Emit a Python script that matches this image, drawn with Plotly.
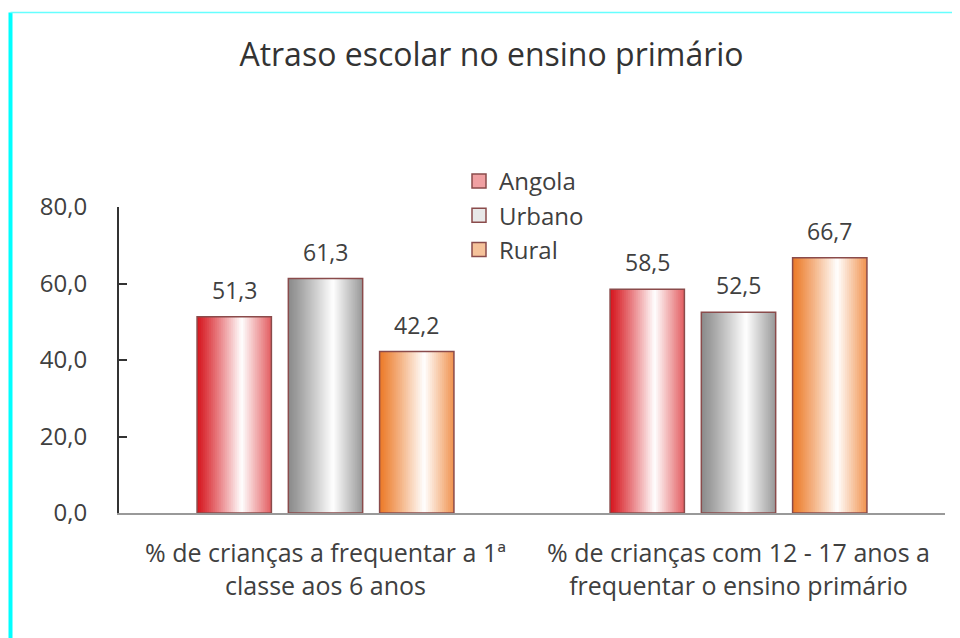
import plotly.graph_objects as go

# ---- data ----
categories = ["% de crianças a frequentar a 1ª<br>classe aos 6 anos",
              "% de crianças com 12 - 17 anos a<br>frequentar o ensino primário"]
series_names = ["Angola", "Urbano", "Rural"]
angola = [51.3, 58.5]
urbano = [61.3, 52.5]
rural = [42.2, 66.7]
series_values = [angola, urbano, rural]
y_ticks = [0, 20, 40, 60, 80]

# ---- style ----
# page body has an 8px margin, so the figure is drawn 8px in from the window edge
OFF = 8
W, H = 960 - OFF, 638 - OFF
ML, MR, MT, MB = 119 - OFF, 960 - 945, 207 - OFF, 638 - 513
edge_left = [(214, 22, 30), (138, 138, 138), (236, 122, 40)]
edge_right = [(226, 92, 96), (152, 152, 152), (240, 146, 78)]
legend_fill = ["#f0a0a2", "#e8e8e8", "#f5c29a"]
outline = "#8a4b4b"
bar_w = 0.18
offsets = [-0.221, 0.0, 0.221]
N = 37
peak = 0.6
FONT = "Open Sans"
TXT = "#404040"


def mix(c1, c2, s):
    return "rgb(%d,%d,%d)" % tuple(round(a + (b - a) * s) for a, b in zip(c1, c2))


white = (255, 255, 255)
xs = list(range(len(categories)))
fig = go.Figure()

for k, (name, vals) in enumerate(zip(series_names, series_values)):
    sw = bar_w / N
    for j in range(N):
        t = (j + 0.5) / N
        if t < peak:
            col = mix(edge_left[k], white, (t / peak) ** 1.1)
        else:
            col = mix(white, edge_right[k], (t - peak) / (1 - peak))
        fig.add_trace(go.Bar(
            x=xs, y=vals, width=sw * (2.0 if j < N - 1 else 1.0),
            offset=offsets[k] - bar_w / 2 + j * sw,
            marker=dict(color=col, line=dict(width=0)),
            showlegend=False, hoverinfo="skip"))
    # outline
    fig.add_trace(go.Bar(
        x=xs, y=vals, width=bar_w, offset=offsets[k] - bar_w / 2,
        marker=dict(color="rgba(0,0,0,0)", line=dict(color=outline, width=1.5)),
        name=name, showlegend=False))
    # legend entry
    fig.add_trace(go.Scatter(
        x=[None], y=[None], mode="markers", name=name,
        marker=dict(symbol="square", size=14, color=legend_fill[k],
                    line=dict(color=outline, width=1.5))))
    # value labels
    for i, v in enumerate(vals):
        fig.add_annotation(
            x=xs[i] + offsets[k], y=v, text=f"{v:.1f}".replace(".", ","),
            showarrow=False, yanchor="bottom", yshift=9,
            font=dict(family=FONT, size=23, color=TXT))

# cyan frame (left and top)
pw = W - ML - MR
ph = H - MT - MB
xl = (10.5 - OFF - ML) / pw
yt = (H - MB - (12.5 - OFF)) / ph
yb = (H - MB - H - 10) / ph
fig.add_shape(type="line", xref="paper", yref="paper", x0=xl, x1=xl, y0=yb, y1=yt,
              line=dict(color="#00ffff", width=4), layer="above")
fig.add_shape(type="line", xref="paper", yref="paper", x0=xl, x1=(W + 10 - ML) / pw, y0=yt, y1=yt,
              line=dict(color="#66ffff", width=1.5), layer="above")

fig.update_layout(
    width=W, height=H,
    margin=dict(l=ML, r=MR, t=MT, b=MB),
    paper_bgcolor="white", plot_bgcolor="white",
    barmode="overlay", separators=",.",
    font=dict(family=FONT, color=TXT),
    title=dict(text="Atraso escolar no ensino primário", x=(491.5 - OFF) / W, xanchor="center",
               y=1 - (55 - OFF) / H, yanchor="middle",
               font=dict(family=FONT, size=32, color="#333333")),
    legend=dict(x=(459 - OFF - ML) / pw, y=(H - MB - (159 - OFF)) / ph, xanchor="left", yanchor="top",
                font=dict(family=FONT, size=24, color=TXT), bgcolor="rgba(0,0,0,0)",
                itemwidth=30, tracegroupgap=0),
    xaxis=dict(range=[-0.5, 1.5], tickvals=xs, ticktext=categories, showgrid=False,
               zeroline=False, showline=True, linecolor="#999999", linewidth=2,
               ticks="", tickfont=dict(family=FONT, size=25, color=TXT),
               ticklabelstandoff=17, fixedrange=True),
    yaxis=dict(range=[0, 80], tickvals=y_ticks, tickformat=".1f", showgrid=False,
               zeroline=False, showline=True, linecolor="#333333", linewidth=2,
               ticks="inside", ticklen=8, tickcolor="#333333", tickwidth=2,
               tickfont=dict(family=FONT, size=24, color=TXT),
               ticklabelstandoff=25, fixedrange=True),
)

fig.write_html("out.html")
